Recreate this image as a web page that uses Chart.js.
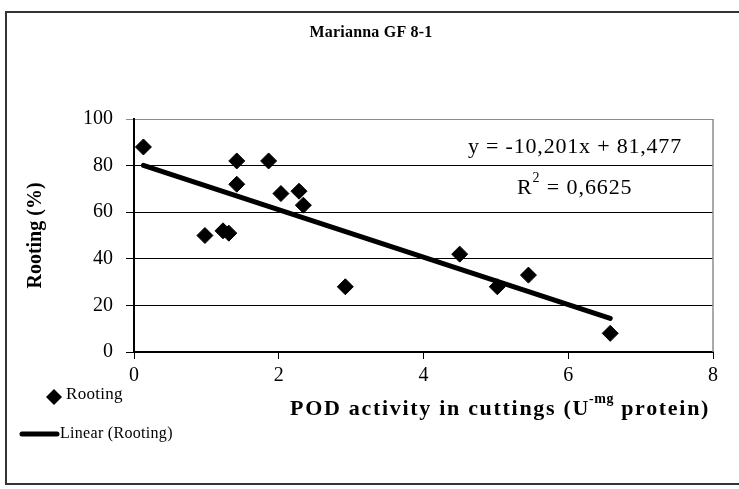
<!DOCTYPE html>
<html>
<head>
<meta charset="utf-8">
<script src="https://cdn.jsdelivr.net/npm/chart.js@4/dist/chart.umd.min.js"></script>
<style>
  html, body { margin: 0; padding: 0; background: #fff; }
  canvas { display: block; }
</style>
</head>
<body>
<canvas id="chart" width="739" height="489"></canvas>
<script>
const SERIF = '"Liberation Serif", "Times New Roman", serif'

// POD activity (x) and rooting % (y)
const pod_activity = [0.13, 0.98, 1.23, 1.31, 1.42, 1.42, 1.86, 2.03, 2.28, 2.34, 2.92, 4.50, 5.02, 5.45, 6.58]
const rooting      = [88,   50,   52,   51,   72,   82,   82,   68,   69,   63,   28,   42,   28,   33,   8]

// trend line end points
const trend_x = [0.13, 6.58]
const trend_y = [80.1, 14.4]

const x_ticks = [0, 2, 4, 6, 8]
const y_ticks = [0, 20, 40, 60, 80, 100]

const TITLE = 'Marianna GF 8-1'
const EQUATION = 'y = -10,201x + 81,477'
const R_SQUARED = '0,6625'

let points = pod_activity.map((x, i) => ({x: x, y: rooting[i]}))
let trend = trend_x.map((x, i) => ({x: x, y: trend_y[i]}))

// text helper, returns end x
function put(ctx, text, x, y, font, spacing) {
  ctx.font = font
  ctx.letterSpacing = (spacing || 0) + 'px'
  ctx.fillText(text, x, y)
  return x + ctx.measureText(text).width
}

// Draws the frame, title, x title with superscript, equation and legend
const extras = {
  id: 'extras',
  afterDraw(chart) {
    let ctx = chart.ctx
    let area = chart.chartArea
    ctx.save()

    // gray right edge of plot area
    ctx.strokeStyle = '#8c8c8c'
    ctx.lineWidth = 1.5
    ctx.beginPath()
    ctx.moveTo(area.right, area.top)
    ctx.lineTo(area.right, area.bottom)
    ctx.stroke()

    // outer frame
    ctx.strokeStyle = '#333'
    ctx.lineWidth = 2
    ctx.strokeRect(6, 12, 740, 472)

    ctx.fillStyle = '#000'
    ctx.textBaseline = 'middle'

    // title
    ctx.textAlign = 'center'
    put(ctx, TITLE, 371, 33, `bold 16px ${SERIF}`, 0.2)

    // x axis title with superscript
    ctx.textAlign = 'left'
    let tx = 290, ty = 409
    tx = put(ctx, 'POD activity in cuttings (U', tx, ty, `bold 22px ${SERIF}`, 1.7)
    tx = put(ctx, '-mg', tx - 1, ty - 10, `bold 14px ${SERIF}`, 0.5)
    put(ctx, ' protein)', tx, ty, `bold 22px ${SERIF}`, 1.7)

    // equation and R squared
    put(ctx, EQUATION, 468, 147, `22px ${SERIF}`, 0.8)
    let rx = put(ctx, 'R', 517, 188, `22px ${SERIF}`, 0.8)
    rx = put(ctx, '2', rx, 178, `14px ${SERIF}`, 0)
    put(ctx, ' = ' + R_SQUARED, rx + 1, 188, `22px ${SERIF}`, 0.9)

    // legend
    ctx.beginPath()
    ctx.moveTo(54, 389)
    ctx.lineTo(62, 397)
    ctx.lineTo(54, 405)
    ctx.lineTo(46, 397)
    ctx.closePath()
    ctx.fill()
    put(ctx, 'Rooting', 66, 395, `17px ${SERIF}`, 0.3)

    ctx.lineWidth = 5
    ctx.lineCap = 'round'
    ctx.strokeStyle = '#000'
    ctx.beginPath()
    ctx.moveTo(22, 434)
    ctx.lineTo(57, 434)
    ctx.stroke()
    put(ctx, 'Linear (Rooting)', 60, 434, `16px ${SERIF}`, 0.3)

    ctx.restore()
  }
}

new Chart(document.getElementById('chart'), {
  type: 'scatter',
  data: {
    datasets: [{
      label: 'Rooting',
      data: points,
      pointStyle: 'rectRot',
      pointRadius: 8,
      backgroundColor: '#000',
      borderColor: '#000',
      borderWidth: 1,
      order: 1
    }, {
      type: 'line',
      label: 'Linear (Rooting)',
      data: trend,
      borderColor: '#000',
      borderWidth: 5,
      borderCapStyle: 'round',
      pointRadius: 0,
      fill: false,
      order: 2
    }]
  },
  options: {
    responsive: false,
    animation: false,
    devicePixelRatio: 1,
    layout: { padding: { left: 0, top: 119, right: 26, bottom: 0 } },
    plugins: {
      legend: { display: false },
      title: { display: false },
      tooltip: { enabled: false }
    },
    scales: {
      x: {
        type: 'linear',
        min: 0, max: 8,
        afterBuildTicks: (scale) => { scale.ticks = x_ticks.map(v => ({value: v})) },
        afterFit: (scale) => { scale.height = 137 },
        ticks: { color: '#000', font: { family: SERIF, size: 20 }, padding: 5 },
        grid: { drawOnChartArea: false, drawTicks: true, tickLength: 7, color: '#000' },
        border: { color: '#000', width: 2 }
      },
      y: {
        type: 'linear',
        min: 0, max: 100,
        afterBuildTicks: (scale) => { scale.ticks = y_ticks.map(v => ({value: v})) },
        afterFit: (scale) => { scale.width = 134 },
        ticks: { color: '#000', font: { family: SERIF, size: 20 }, padding: 13 },
        grid: {
          color: (c) => c.tick && c.tick.value === 100 ? '#8c8c8c' : '#000',
          lineWidth: 1,
          tickLength: 8
        },
        border: { color: '#000', width: 2 },
        title: {
          display: true,
          text: 'Rooting (%)',
          color: '#000',
          font: { family: SERIF, size: 20, weight: 'bold' },
          padding: { top: 24, bottom: 0 }
        }
      }
    }
  },
  plugins: [extras]
})
</script>
</body>
</html>
